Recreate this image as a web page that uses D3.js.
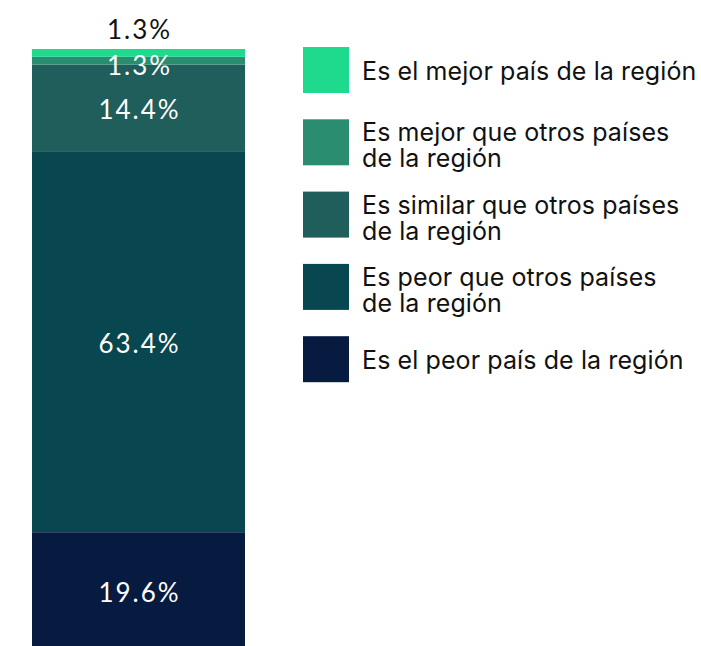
<!DOCTYPE html>
<html>
<head>
<meta charset="utf-8">
<script src="https://d3js.org/d3.v7.min.js"></script>
<style>
  body { margin: 0; background: #fff; }
  .pct { font-family: Lato, "Open Sans", sans-serif; font-size: 26px; font-weight: 400; letter-spacing: 2px; text-anchor: middle; }
  .leg { font-family: Inter, "Noto Sans", sans-serif; font-size: 25px; font-weight: 400; fill: #111; letter-spacing: 0.1px; }
</style>
</head>
<body>
<div id="chart"></div>
<script>
// categorias, de arriba hacia abajo
const categories = [
  "Es el mejor país de la región",
  "Es mejor que otros países de la región",
  "Es similar que otros países de la región",
  "Es peor que otros países de la región",
  "Es el peor país de la región"
];
const legendLines = [
  ["Es el mejor país de la región"],
  ["Es mejor que otros países", "de la región"],
  ["Es similar que otros países", "de la región"],
  ["Es peor que otros países", "de la región"],
  ["Es el peor país de la región"]
];
const values = [1.3, 1.3, 14.4, 63.4, 19.6];
const colors = ["#1fd98d", "#2a8d70", "#1f5e5a", "#08474f", "#071b40"];

const width = 701, height = 646;

const svg = d3.select("#chart").append("svg")
  .attr("width", width)
  .attr("height", height);

// apilar desde abajo (el peor) hacia arriba
const order = d3.range(values.length).reverse();
let acc = 0;
const segs = order.map(i => {
  const s = { i, y0: acc, y1: acc + values[i] };
  acc += values[i];
  return s;
});

const y = d3.scaleLinear().domain([0, 100]).range([650, 49]);
const x = d3.scaleBand().domain(["total"]).range([32, 245]).padding(0);

svg.selectAll("rect.seg")
  .data(segs)
  .join("rect")
  .attr("class", "seg")
  .attr("x", x("total"))
  .attr("width", x.bandwidth())
  .attr("y", d => y(d.y1))
  .attr("height", d => y(d.y0) - y(d.y1))
  .attr("fill", d => colors[d.i]);

// etiquetas
const cx = x("total") + x.bandwidth() / 2 + 1;
svg.selectAll("text.pct")
  .data(segs)
  .join("text")
  .attr("class", "pct")
  .attr("x", cx)
  .attr("y", d => {
    if (d.i === 0) return y(d.y1) - 10;          // la más pequeña, encima de la barra
    if (d.i === 1) return y(d.y1) + 18;
    return (y(d.y0) + y(d.y1)) / 2 + 11;
  })
  .attr("fill", d => d.i === 0 ? "#111" : "#fff")
  .text(d => values[d.i].toFixed(1) + "%");

// leyenda
const leg = svg.append("g").attr("transform", "translate(303,47)");
const row = leg.selectAll("g")
  .data(categories)
  .join("g")
  .attr("transform", (d, i) => `translate(0,${i * 72.3})`);

row.append("rect")
  .attr("width", 46)
  .attr("height", 46)
  .attr("fill", (d, i) => colors[i]);

row.append("text")
  .attr("class", "leg")
  .attr("x", 59)
  .attr("y", (d, i) => legendLines[i].length === 1 ? 33 : 22)
  .selectAll("tspan")
  .data((d, i) => legendLines[i])
  .join("tspan")
  .attr("x", 59)
  .attr("dy", (d, j) => j === 0 ? 0 : 26)
  .text(d => d);
</script>
</body>
</html>
